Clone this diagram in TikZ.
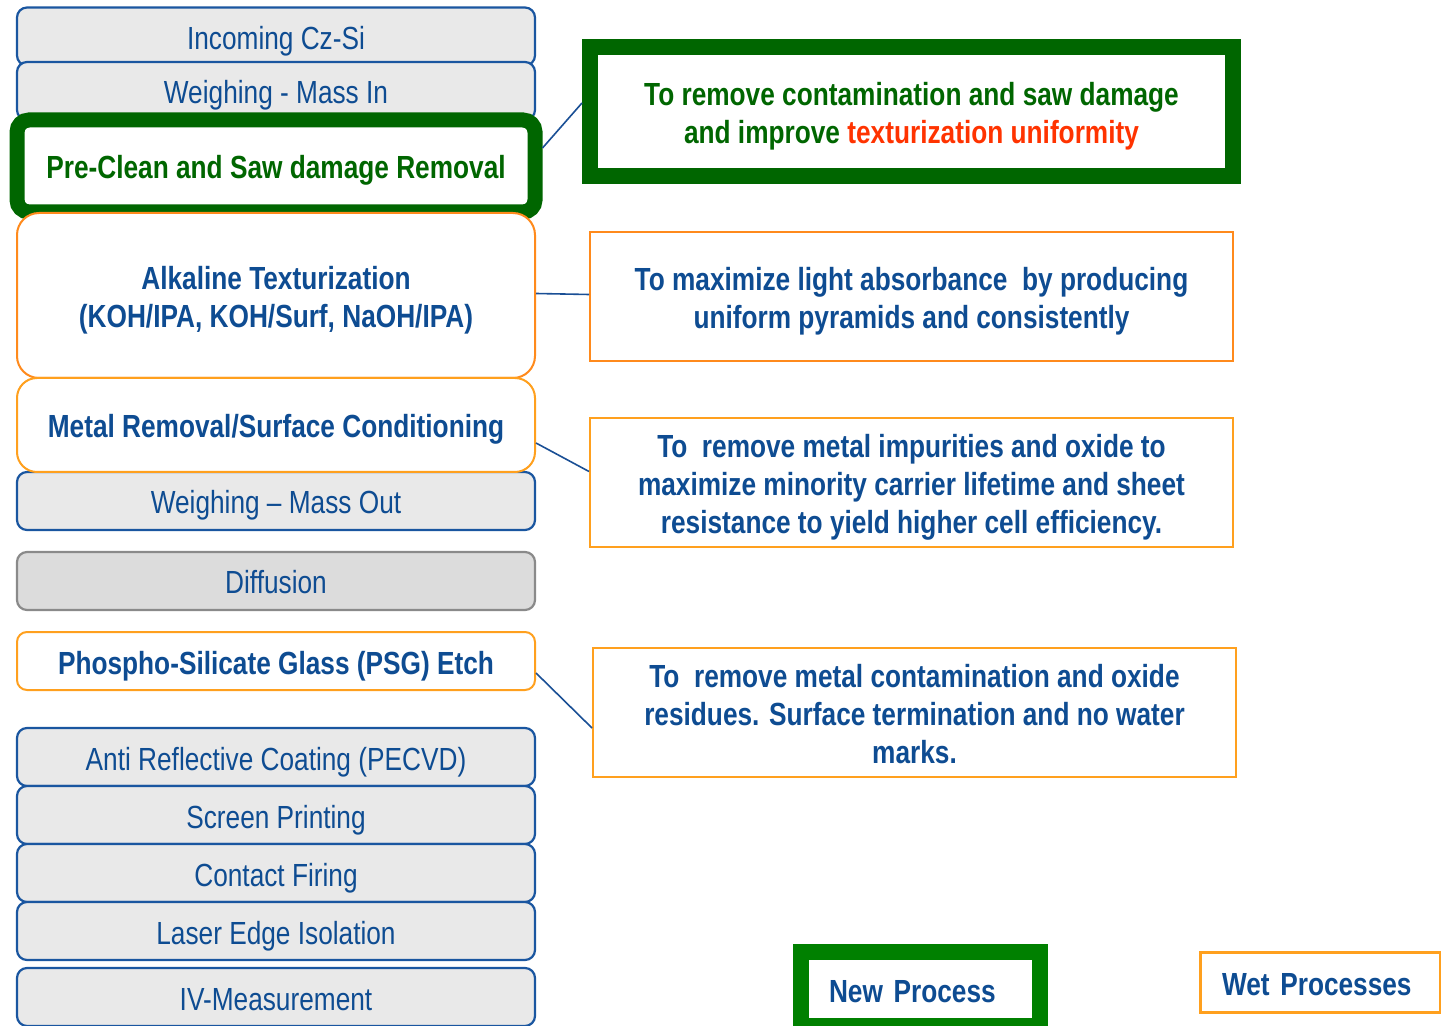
\documentclass[tikz,border=0pt]{standalone}
\usepackage{fontspec}
\setmainfont{Liberation Sans}[FakeStretch=0.82]
\definecolor{txtblue}{HTML}{0E4C92}
\definecolor{edgeblue}{HTML}{1A56A0}
\definecolor{grayfill}{HTML}{E9E9E9}
\definecolor{diffill}{HTML}{DCDCDC}
\definecolor{difedge}{HTML}{8A8A8A}
\definecolor{dkgreen}{HTML}{006600}
\definecolor{newgreen}{HTML}{008000}
\definecolor{hired}{HTML}{FF3300}
\definecolor{orangeA}{HTML}{FF8A1C}
\definecolor{orangeB}{HTML}{FFA01E}
\definecolor{linkblue}{HTML}{1A4F95}
% struts that fix the first line's height and the last line's depth
\newcommand\mytopst{\rule{0pt}{16.5pt}}
\newcommand\mybotst{\rule[-3.5pt]{0pt}{3.5pt}}
\begin{document}
\begin{tikzpicture}[x=0.5pt,y=-0.5pt,
  base/.style={font=\fontsize{16}{19}\selectfont, align=center, inner sep=0pt,
    text=txtblue, minimum width=259pt},
  oneline/.style={text height=16.5pt, text depth=3.5pt},
  bfbase/.style={base, font=\fontsize{16}{19}\selectfont\bfseries},
  graybox/.style={base, oneline, draw=edgeblue, fill=grayfill, line width=1.1pt,
    rounded corners=5pt, minimum height=29pt},
  wetbox/.style={bfbase, draw=orangeB, fill=white, line width=1pt,
    rounded corners=8pt},
  newbox/.style={bfbase, oneline, draw=dkgreen, fill=white, line width=7.5pt,
    rounded corners=6pt, text=dkgreen},
  note/.style={bfbase, draw=orangeB, fill=white, line width=1pt,
    minimum width=321.5pt, minimum height=64.5pt},
  link/.style={draw=linkblue, line width=0.8pt}]
\useasboundingbox (0,0) rectangle (1441,1026);

% process flow, left column
\node[graybox] (inc) at (276,36.5) {Incoming Cz-Si};
\node[graybox] (wmi) at (276,91) {Weighing - Mass In};
\node[newbox, minimum height=46pt] (pre) at (276,166) {Pre-Clean and Saw damage Removal};
\node[wetbox, draw=orangeA, rounded corners=11pt, minimum height=82.5pt] (alk) at (276,295.5)
  {\mytopst Alkaline Texturization\\(KOH/IPA, KOH/Surf, NaOH/IPA)\mybotst};
\node[graybox] (wmo) at (276,501) {Weighing -- Mass Out};
\node[wetbox, oneline, rounded corners=10pt, minimum height=47pt] (met) at (276,425)
  {Metal Removal/Surface Conditioning};
\node[graybox, fill=diffill, draw=difedge] (dif) at (276,581) {Diffusion};
\node[wetbox, oneline, rounded corners=5pt, minimum height=29pt] (psg) at (276,661)
  {Phospho-Silicate Glass (PSG) Etch};
\node[graybox] (arc) at (276,757) {Anti Reflective Coating (PECVD)};
\node[graybox] (scr) at (276,815) {Screen Printing};
\node[graybox] (con) at (276,873) {Contact Firing};
\node[graybox] (las) at (276,931) {Laser Edge Isolation};
\node[graybox] (ivm) at (276,997) {IV-Measurement};

% explanations, right column
\node[note, draw=dkgreen, line width=8pt, text=dkgreen] (r1) at (911.5,111.5)
  {\mytopst To remove contamination and saw damage\\and improve \textcolor{hired}{texturization uniformity}\mybotst};
\node[note, draw=orangeA] (r2) at (911.5,296.5)
  {\mytopst To maximize light absorbance\ \ by producing\\uniform pyramids and consistently\mybotst};
\node[note] (r3) at (911.5,482.5)
  {\mytopst To\ \ remove metal impurities and oxide to\\maximize minority carrier lifetime and sheet\\resistance to yield higher cell efficiency.\mybotst};
\node[note] (r4) at (914.5,712.5)
  {\mytopst To\ \ remove metal contamination and oxide\\residues. Surface termination and no water\\marks.\mybotst};

% links from steps to explanations
\draw[link] ([yshift=9pt]pre.east) -- ([yshift=4.25pt]r1.west);
\draw[link] ([yshift=1pt]alk.east) -- ([yshift=1pt]r2.west);
\draw[link] ([yshift=-9pt]met.east) -- ([yshift=5.5pt]r3.west);
\draw[link] ([yshift=-6pt]psg.east) -- ([yshift=-7.75pt]r4.west);

% legend
\node[bfbase, oneline, draw=newgreen, fill=white, line width=8pt, minimum width=0pt,
  minimum height=37pt, inner xsep=14pt, text width=91.5pt, align=left] (newp)
  at (920.5,989) {New Process};
\node[bfbase, oneline, draw=orangeB, fill=white, line width=1.5pt, minimum width=0pt,
  minimum height=30pt, inner xsep=11pt, text width=98pt, align=left] (wetp)
  at (1320,982) {Wet Processes};
\end{tikzpicture}
\end{document}
